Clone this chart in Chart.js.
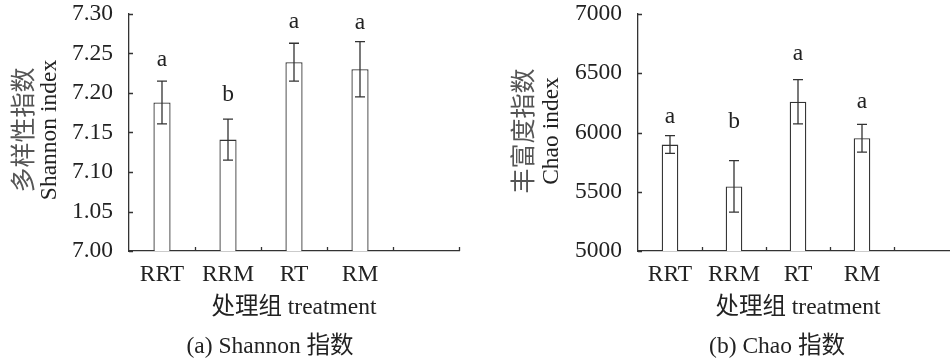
<!DOCTYPE html>
<html lang="zh">
<head>
<meta charset="UTF-8">
<title>Shannon / Chao index</title>
<script src="https://cdn.jsdelivr.net/npm/chart.js"></script>
<style>
  html, body { margin: 0; padding: 0; background: #fff; overflow: hidden; }
  #wrap { position: relative; width: 950px; height: 361px; overflow: hidden; }
  canvas { position: absolute; top: 0; }
</style>
</head>
<body>
<div id="wrap">
  <canvas id="shannonChart" width="475" height="361" style="left:0"></canvas>
  <canvas id="chaoChart" width="490" height="361" style="left:475px"></canvas>
</div>

<script>
// data
const categories = ['RRT', 'RRM', 'RT', 'RM', ''];

const shannonMean = [7.188, 7.141, 7.239, 7.230, null];
const shannonErr = [0.027, 0.026, 0.024, 0.035, null];
const shannonSig = ['a', 'b', 'a', 'a'];
const shannonSigY = [7.234, 7.190, 7.282, 7.281];
const shannonTicks = ['7.00', '1.05', '7.10', '7.15', '7.20', '7.25', '7.30'];

const chaoMean = [5898, 5545, 6259, 5952, null];
const chaoErr = [75, 217, 187, 117, null];
const chaoSig = ['a', 'b', 'a', 'a'];
const chaoSigY = [6084, 6038, 6612, 6204];
const chaoTicks = ['5000', '5500', '6000', '6500', '7000'];

const FONT = "'Liberation Serif', 'Times New Roman', 'Noto Sans CJK SC', serif";
const FS = 23.5;
const INK = '#222';
const LINE = '#333';

function makeChart(id, cfg) {
    const decor = {
        id: 'decor_' + id,
        afterDatasetsDraw(chart) {
            const c = chart.ctx;
            const x = chart.scales.x, y = chart.scales.y;
            const area = chart.chartArea;
            const meta = chart.getDatasetMeta(0);
            c.save();
            c.strokeStyle = LINE;
            c.lineWidth = 1.3;

            // error bars
            meta.data.forEach((bar, i) => {
                const m = cfg.means[i];
                if (m == null) return;
                const top = y.getPixelForValue(m + cfg.errs[i]);
                const bot = y.getPixelForValue(m - cfg.errs[i]);
                c.beginPath();
                c.moveTo(bar.x, top); c.lineTo(bar.x, bot);
                c.moveTo(bar.x - 5, top); c.lineTo(bar.x + 5, top);
                c.moveTo(bar.x - 5, bot); c.lineTo(bar.x + 5, bot);
                c.stroke();
            });

            // inward tick marks
            c.beginPath();
            y.ticks.forEach(t => {
                const py = Math.round(y.getPixelForValue(t.value)) + 0.5;
                c.moveTo(area.left, py); c.lineTo(area.left + 4, py);
            });
            const slot = x.getPixelForValue(1) - x.getPixelForValue(0);
            const x0 = x.getPixelForValue(0) - slot / 2;
            for (let k = 1; k <= categories.length; k++) {
                const px = Math.round(x0 + k * slot) + 0.5;
                c.moveTo(px, area.bottom); c.lineTo(px, area.bottom - 4);
            }
            c.stroke();

            // significance letters
            c.fillStyle = INK;
            c.font = FS + 'px ' + FONT;
            c.textAlign = 'center';
            c.textBaseline = 'alphabetic';
            cfg.sig.forEach((s, i) => {
                c.fillText(s, meta.data[i].x, y.getPixelForValue(cfg.sigY[i]));
            });

            // y axis title, two rotated lines
            c.textBaseline = 'middle';
            c.save();
            c.translate(cfg.yTitleX[0], cfg.yTitleY);
            c.rotate(-Math.PI / 2);
            c.fillStyle = '#555';
            c.font = '25px ' + FONT;
            c.fillText(cfg.yTitle[0], 0, 0);
            c.restore();
            c.save();
            c.translate(cfg.yTitleX[1], cfg.yTitleY);
            c.rotate(-Math.PI / 2);
            c.font = FS + 'px ' + FONT;
            c.fillText(cfg.yTitle[1], 0, 0);
            c.restore();

            // x title and panel caption
            c.font = FS + 'px ' + FONT;
            c.fillText('处理组 treatment', (area.left + area.right) / 2, 308);
            c.fillText(cfg.caption, cfg.captionX, 347);
            c.restore();
        }
    };

    return new Chart(document.getElementById(id), {
        type: 'bar',
        data: {
            labels: categories,
            datasets: [{
                data: cfg.means,
                backgroundColor: '#fff',
                borderColor: LINE,
                borderWidth: 1.3,
                barPercentage: 0.26,
                categoryPercentage: 1.0
            }]
        },
        options: {
            responsive: false,
            animation: false,
            layout: { padding: { left: 0, right: cfg.padRight, top: 0, bottom: 0 } },
            plugins: { legend: { display: false }, tooltip: { enabled: false } },
            scales: {
                x: {
                    grid: { display: false, drawTicks: false },
                    border: { display: true, color: LINE, width: 1.3 },
                    ticks: { color: INK, font: { family: FONT, size: FS }, padding: 10 },
                    afterFit: s => { s.height = 110; s.paddingLeft = 0; s.paddingRight = 0; }
                },
                y: {
                    min: cfg.min,
                    max: cfg.max,
                    grid: { display: false, drawTicks: false },
                    border: { display: true, color: LINE, width: 1.3 },
                    ticks: {
                        stepSize: cfg.step,
                        color: INK,
                        font: { family: FONT, size: FS },
                        padding: 16,
                        callback: (v, i) => cfg.tickLabels[i]
                    },
                    afterFit: s => { s.width = cfg.axisWidth; s.paddingTop = 14; s.paddingBottom = 0; }
                }
            }
        },
        plugins: [decor]
    });
}

makeChart('shannonChart', {
    means: shannonMean, errs: shannonErr, sig: shannonSig, sigY: shannonSigY,
    tickLabels: shannonTicks, min: 7.0, max: 7.3, step: 0.05,
    axisWidth: 129, padRight: 16,
    yTitle: ['多样性指数', 'Shannon index'], yTitleX: [25, 50], yTitleY: 130,
    caption: '(a) Shannon 指数', captionX: 270
});

makeChart('chaoChart', {
    means: chaoMean, errs: chaoErr, sig: chaoSig, sigY: chaoSigY,
    tickLabels: chaoTicks, min: 5000, max: 7000, step: 500,
    axisWidth: 163, padRight: 7,
    yTitle: ['丰富度指数', 'Chao index'], yTitleX: [50, 77], yTitleY: 131,
    caption: '(b) Chao 指数', captionX: 302
});
</script>
</body>
</html>
